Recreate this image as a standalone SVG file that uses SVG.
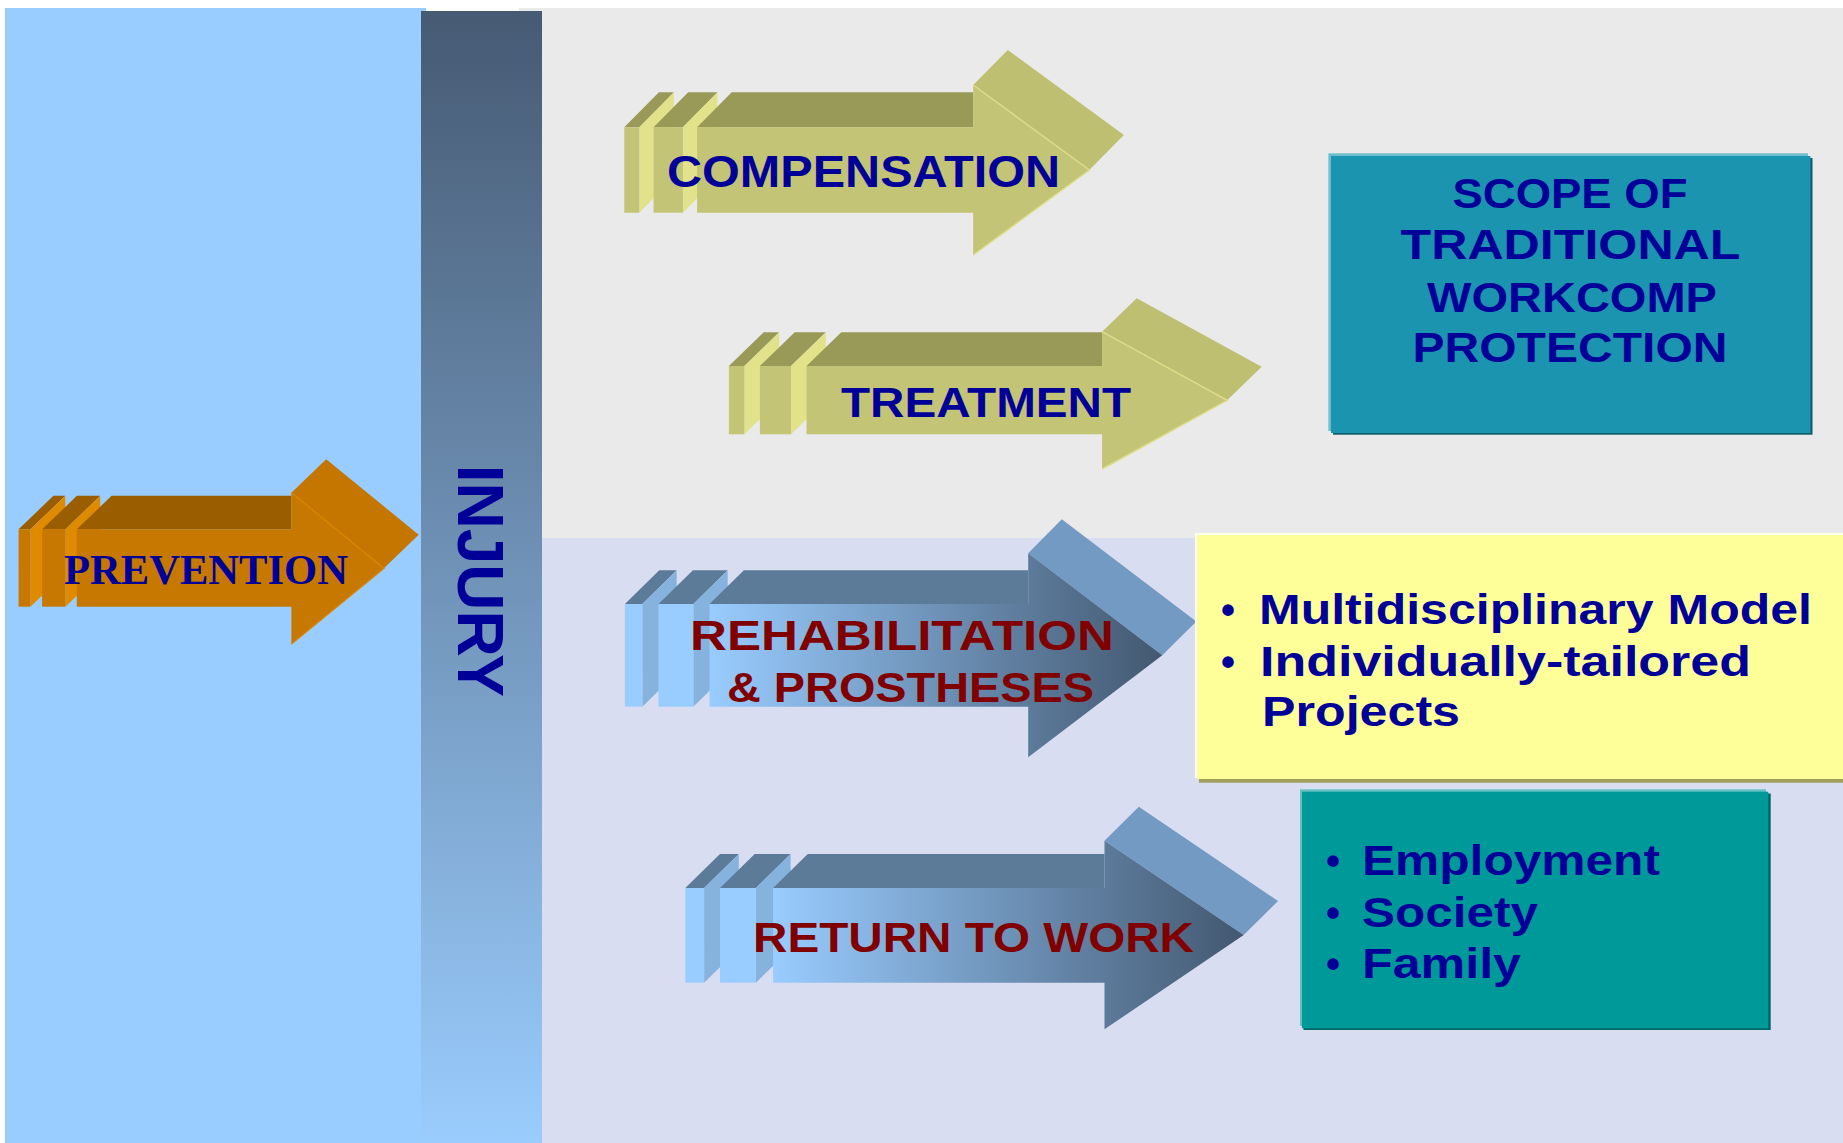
<svg xmlns="http://www.w3.org/2000/svg" width="1843" height="1143" viewBox="0 0 1843 1143">
<defs>
<linearGradient id="injuryGrad" x1="0" y1="0" x2="0" y2="1">
<stop offset="0" stop-color="#465A73"/>
<stop offset="1" stop-color="#9ACCFD"/>
</linearGradient>
<linearGradient id="rehabGrad" gradientUnits="userSpaceOnUse" x1="709.5" y1="0" x2="1162.3" y2="0">
<stop offset="0" stop-color="#99CCFF"/>
<stop offset="1" stop-color="#435870"/>
</linearGradient>
<linearGradient id="rtwGrad" gradientUnits="userSpaceOnUse" x1="773.1" y1="0" x2="1243.7" y2="0">
<stop offset="0" stop-color="#99CCFF"/>
<stop offset="1" stop-color="#435870"/>
</linearGradient>
</defs>
<style>
.sans{font-family:"Liberation Sans",Arial,Helvetica,sans-serif;font-weight:bold;}
.serif{font-family:"Liberation Serif","Times New Roman",serif;font-weight:bold;}
.blue{fill:#000099;}
.red{fill:#800000;}
.o-front{fill:#C67800;}
.o-top{fill:#9A5E00;}
.o-side{fill:#E08A00;}
.o-head{fill:#C47600;}
.y-front{fill:#C4C476;}
.y-top{fill:#999958;}
.y-side{fill:#E2E28A;}
.y-head{fill:#BFBF72;}
.b-front{fill:#99CCFF;}
.b-top{fill:#5B7B99;}
.b-side{fill:#86B3DE;}
.b-head{fill:#739AC2;}
.edge-y{fill:none;stroke:#DCDC88;stroke-width:1.5;}
.edge-o{fill:none;stroke:#D98400;stroke-width:1.5;}
</style>

<g id="background">
<rect x="0" y="0" width="1843" height="1143" fill="#FFFFFF"/>
<rect x="519" y="8" width="1324" height="530" fill="#EAEAEA"/>
<rect x="519" y="538" width="1324" height="605" fill="#D9DDF2"/>
<rect x="5" y="8" width="421" height="1135" fill="#99CCFF"/>
</g>

<g id="injury">
<rect x="421" y="11" width="121" height="1132" fill="url(#injuryGrad)"/>
<text class="sans blue" font-size="64" text-anchor="middle" transform="translate(458.3,580.8) rotate(90)">INJURY</text>
</g>

<g id="prevention">
<polygon class="o-top" points="18.6,529.3 53.4,495.8 65.2,495.8 30.4,529.3"/>
<polygon class="o-side" points="30.4,529.3 65.2,495.8 65.2,573.2 30.4,606.7"/>
<rect class="o-front" x="18.6" y="529.3" width="11.8" height="77.4"/>
<polygon class="o-top" points="42.1,529.3 76.9,495.8 100.2,495.8 65.4,529.3"/>
<polygon class="o-side" points="65.4,529.3 100.2,495.8 100.2,573.2 65.4,606.7"/>
<rect class="o-front" x="42.1" y="529.3" width="23.3" height="77.4"/>
<polygon class="o-top" points="76.8,529.3 111.6,495.8 291.4,495.8 291.4,529.3"/>
<polygon class="o-head" points="291.4,492.7 326.2,459.2 418.7,534.8 383.9,568.3"/>
<polygon class="o-front" points="76.8,529.3 291.4,529.3 291.4,492.7 383.9,568.3 291.4,644 291.4,606.7 76.8,606.7"/>
<polyline class="edge-o" points="291.4,492.7 383.9,568.3 291.4,644"/>
<text class="serif blue" font-size="43" x="64" y="584" textLength="284" lengthAdjust="spacingAndGlyphs">PREVENTION</text>
</g>

<g id="compensation">
<polygon class="y-top" points="624.3,127.3 658.9,92.3 673.9,92.3 639.3,127.3"/>
<polygon class="y-side" points="639.3,127.3 673.9,92.3 673.9,177.7 639.3,212.7"/>
<rect class="y-front" x="624.3" y="127.3" width="15" height="85.4"/>
<polygon class="y-top" points="653.6,127.3 688.2,92.3 717.5,92.3 682.9,127.3"/>
<polygon class="y-side" points="682.9,127.3 717.5,92.3 717.5,177.7 682.9,212.7"/>
<rect class="y-front" x="653.6" y="127.3" width="29.3" height="85.4"/>
<polygon class="y-top" points="697.1,127.3 731.7,92.3 973.2,92.3 973.2,127.3"/>
<polygon class="y-head" points="973.2,85 1007.8,50 1123.9,135 1089.3,170"/>
<polygon class="y-front" points="697.1,127.3 973.2,127.3 973.2,85 1089.3,170 973.2,255 973.2,212.7 697.1,212.7"/>
<polyline class="edge-y" points="973.2,85 1089.3,170 973.2,255"/>
<text class="sans blue" font-size="44" x="667" y="186.7" textLength="393" lengthAdjust="spacingAndGlyphs">COMPENSATION</text>
</g>

<g id="treatment">
<polygon class="y-top" points="728.9,366 763.7,332.3 779.2,332.3 744.4,366"/>
<polygon class="y-side" points="744.4,366 779.2,332.3 779.2,400.6 744.4,434.3"/>
<rect class="y-front" x="728.9" y="366" width="15.5" height="68.3"/>
<polygon class="y-top" points="759.9,366 794.7,332.3 825.8,332.3 791,366"/>
<polygon class="y-side" points="791,366 825.8,332.3 825.8,400.6 791,434.3"/>
<rect class="y-front" x="759.9" y="366" width="31.1" height="68.3"/>
<polygon class="y-top" points="806.5,366 841.3,332.3 1102.1,332.3 1102.1,366"/>
<polygon class="y-head" points="1102.1,331.7 1136.7,298.2 1261.7,366.8 1227.1,400.3"/>
<polygon class="y-front" points="806.5,366 1102.1,366 1102.1,331.7 1227.1,400.3 1102.1,469 1102.1,434.3 806.5,434.3"/>
<polyline class="edge-y" points="1102.1,331.7 1227.1,400.3 1102.1,469"/>
<text class="sans blue" font-size="42" x="841" y="416.7" textLength="290" lengthAdjust="spacingAndGlyphs">TREATMENT</text>
</g>

<g id="rehabilitation">
<polygon class="b-top" points="624.9,604 659.3,570.3 676.7,570.3 642.3,604"/>
<polygon class="b-side" points="642.3,604 676.7,570.3 676.7,673 642.3,706.7"/>
<rect class="b-front" x="624.9" y="604" width="17.4" height="102.7"/>
<polygon class="b-top" points="658.5,604 692.9,570.3 727.7,570.3 693.3,604"/>
<polygon class="b-side" points="693.3,604 727.7,570.3 727.7,673 693.3,706.7"/>
<rect class="b-front" x="658.5" y="604" width="34.8" height="102.7"/>
<polygon class="b-top" points="709.5,604 743.9,570.3 1028.2,570.3 1028.2,604"/>
<polygon class="b-head" points="1028.2,553.3 1061.8,519.3 1196.3,621.5 1162.3,655.3"/>
<polygon fill="url(#rehabGrad)" points="709.5,604 1028.2,604 1028.2,553.3 1162.3,655.3 1028.2,757.3 1028.2,706.7 709.5,706.7"/>
<text class="sans red" font-size="42" x="690" y="650" textLength="424" lengthAdjust="spacingAndGlyphs">REHABILITATION</text>
<text class="sans red" font-size="42" x="727" y="701.7" textLength="367" lengthAdjust="spacingAndGlyphs">&amp; PROSTHESES</text>
</g>

<g id="return-to-work">
<polygon class="b-top" points="685.3,888 720,854 738.8,854 704.1,888"/>
<polygon class="b-side" points="704.1,888 738.8,854 738.8,948.7 704.1,982.7"/>
<rect class="b-front" x="685.3" y="888" width="18.8" height="94.7"/>
<polygon class="b-top" points="720,888 754.7,854 790.6,854 755.9,888"/>
<polygon class="b-side" points="755.9,888 790.6,854 790.6,948.7 755.9,982.7"/>
<rect class="b-front" x="720" y="888" width="35.9" height="94.7"/>
<polygon class="b-top" points="773.1,888 807.8,854 1104.5,854 1104.5,888"/>
<polygon class="b-head" points="1104.5,840.7 1138.8,806.7 1278,901 1243.7,935"/>
<polygon fill="url(#rtwGrad)" points="773.1,888 1104.5,888 1104.5,840.7 1243.7,935 1104.5,1029.3 1104.5,982.7 773.1,982.7"/>
<text class="sans red" font-size="42" x="753" y="952.3" textLength="441" lengthAdjust="spacingAndGlyphs">RETURN TO WORK</text>
</g>

<g id="scope-box">
<rect x="1333" y="158" width="479.5" height="276.7" fill="#0D5D6C"/>
<rect x="1328.4" y="153.3" width="479.6" height="277.7" fill="#6DBDCC"/>
<rect x="1331" y="156" width="479.5" height="277" fill="#1B94B0"/>
<text class="sans blue" font-size="42" x="1452.5" y="208.3" textLength="235" lengthAdjust="spacingAndGlyphs">SCOPE OF</text>
<text class="sans blue" font-size="42" x="1400.5" y="259.3" textLength="340" lengthAdjust="spacingAndGlyphs">TRADITIONAL</text>
<text class="sans blue" font-size="42" x="1427" y="311.7" textLength="290" lengthAdjust="spacingAndGlyphs">WORKCOMP</text>
<text class="sans blue" font-size="42" x="1412.5" y="361.7" textLength="315" lengthAdjust="spacingAndGlyphs">PROTECTION</text>
</g>

<g id="multidisciplinary-box">
<rect x="1199" y="537" width="644" height="245.7" fill="#A09F5C"/>
<rect x="1195" y="533" width="648" height="245" fill="#FFFFEE"/>
<rect x="1197" y="535" width="646" height="244" fill="#FFFF99"/>
<text class="sans blue" font-size="40" x="1221" y="624">•</text>
<text class="sans blue" font-size="42" x="1259" y="624" textLength="553" lengthAdjust="spacingAndGlyphs">Multidisciplinary Model</text>
<text class="sans blue" font-size="40" x="1221" y="676">•</text>
<text class="sans blue" font-size="42" x="1260" y="676" textLength="491" lengthAdjust="spacingAndGlyphs">Individually-tailored</text>
<text class="sans blue" font-size="42" x="1262" y="726" textLength="198" lengthAdjust="spacingAndGlyphs">Projects</text>
</g>

<g id="outcomes-box">
<rect x="1303.5" y="793.5" width="467.2" height="236.5" fill="#006666"/>
<rect x="1300" y="789.3" width="466" height="236.7" fill="#66C2C2"/>
<rect x="1302" y="791.7" width="466.3" height="236.6" fill="#009999"/>
<text class="sans blue" font-size="40" x="1326" y="875">•</text>
<text class="sans blue" font-size="42" x="1362" y="875" textLength="298" lengthAdjust="spacingAndGlyphs">Employment</text>
<text class="sans blue" font-size="40" x="1326" y="926.7">•</text>
<text class="sans blue" font-size="42" x="1362" y="926.7" textLength="176" lengthAdjust="spacingAndGlyphs">Society</text>
<text class="sans blue" font-size="40" x="1326" y="978.3">•</text>
<text class="sans blue" font-size="42" x="1362" y="978.3" textLength="159" lengthAdjust="spacingAndGlyphs">Family</text>
</g>

<g id="connectors"/>
</svg>
